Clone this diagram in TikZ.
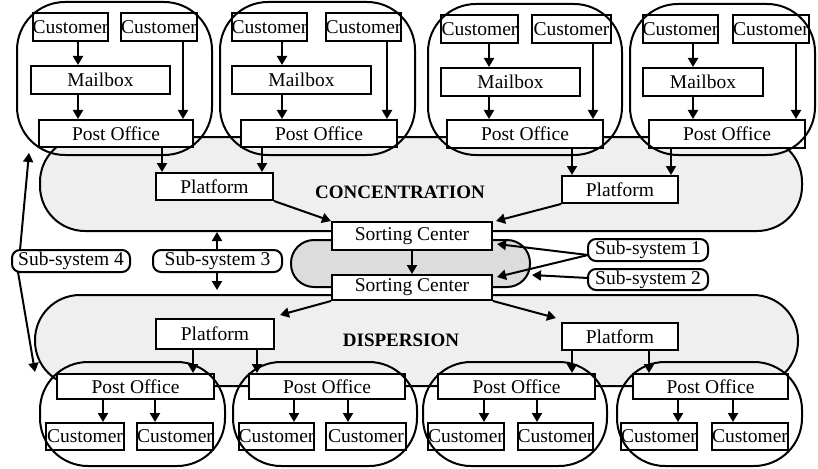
\documentclass[tikz,border=0pt]{standalone}
\usepackage{fontspec}
\setmainfont{Liberation Serif}
\usetikzlibrary{arrows.meta}
\definecolor{lightg}{HTML}{EFEFEF}
\definecolor{midg}{HTML}{DCDCDC}
\tikzset{
  box/.style={draw, line width=2pt, fill=white, inner sep=0pt, font=\fontsize{19.5}{21}\selectfont},
  subbox/.style={box, rounded corners=8pt},
  cluster/.style={draw, line width=2pt, rounded corners=48pt},
  region/.style={draw, line width=2pt, fill=lightg, rounded corners=45pt},
  arr/.style={line width=2pt, -{Triangle[length=9pt,width=10pt]}},
  lbl/.style={font=\fontsize{19}{21}\selectfont\bfseries, inner sep=0pt}
}
\newcommand\mkbox[7][box]{\node[#1, minimum width={(#5-#3)*1pt}, minimum height={(#6-#4)*1pt}] (#2) at ({(#3+#5)/2},{(#4+#6)/2}) {#7};}
\newcommand\mkarea[6][cluster]{\node[#1, inner sep=0pt, minimum width={(#5-#3)*1pt}, minimum height={(#6-#4)*1pt}] (#2) at ({(#3+#5)/2},{(#4+#6)/2}) {};}
\begin{document}
\begin{tikzpicture}[x=1pt,y=-1pt]
\useasboundingbox (0,0) rectangle (818,468);
% regions
\mkarea[region]{conc}{40}{137}{802}{231}
\mkarea[region]{disp}{35}{295}{798}{386}
\mkarea[region, fill=midg, rounded corners=23pt]{mid}{291}{240}{530}{287}
\node[lbl] (conctxt) at (400,192) {CONCENTRATION};
\node[lbl] (disptxt) at (401,340) {DISPERSION};
% cluster 1
\mkbox{c1a}{33}{13}{108}{41}{Customer}
\mkbox{c1b}{121}{13}{197}{41}{Customer}
\mkbox{c1m}{31}{66}{170}{94}{Mailbox}
\mkbox{c1p}{39}{120}{193}{147}{Post Office}
\draw[arr] (78,0 |- c1a.south) -- (78,0 |- c1m.north);
\draw[arr] (78,0 |- c1m.south) -- (78,0 |- c1p.north);
\draw[arr] (183,0 |- c1b.south) -- (183,0 |- c1p.north);
% cluster 2
\mkbox{c2a}{232}{13}{307}{41}{Customer}
\mkbox{c2b}{327}{13}{400}{41}{Customer}
\mkbox{c2m}{232}{66}{371}{94}{Mailbox}
\mkbox{c2p}{241}{120}{397}{147}{Post Office}
\draw[arr] (282,0 |- c2a.south) -- (282,0 |- c2m.north);
\draw[arr] (282,0 |- c2m.south) -- (282,0 |- c2p.north);
\draw[arr] (387,0 |- c2b.south) -- (387,0 |- c2p.north);
% cluster 3
\mkbox{c3a}{441}{15}{518}{43}{Customer}
\mkbox{c3b}{532}{15}{611}{43}{Customer}
\mkbox{c3m}{441}{68}{580}{96}{Mailbox}
\mkbox{c3p}{447}{120}{603}{148}{Post Office}
\draw[arr] (489,0 |- c3a.south) -- (489,0 |- c3m.north);
\draw[arr] (489,0 |- c3m.south) -- (489,0 |- c3p.north);
\draw[arr] (593,0 |- c3b.south) -- (593,0 |- c3p.north);
% cluster 4
\mkbox{c4a}{643}{15}{718}{43}{Customer}
\mkbox{c4b}{733}{15}{809}{43}{Customer}
\mkbox{c4m}{643}{68}{763}{96}{Mailbox}
\mkbox{c4p}{649}{120}{805}{148}{Post Office}
\draw[arr] (693,0 |- c4a.south) -- (693,0 |- c4m.north);
\draw[arr] (693,0 |- c4m.south) -- (693,0 |- c4p.north);
\draw[arr] (796,0 |- c4b.south) -- (796,0 |- c4p.north);
% top clusters (outlines over boxes)
\mkarea{c1}{17}{2}{212}{155}
\mkarea{c2}{220}{2}{415}{155}
\mkarea{c3}{428}{4}{622}{155}
\mkarea{c4}{630}{4}{815}{155}
% concentration platforms
\mkbox{pl1}{156}{173}{273}{200}{Platform}
\mkbox{pl2}{562}{176}{678}{203}{Platform}
\draw[arr] (162,0 |- c1p.south) -- (162,0 |- pl1.north);
\draw[arr] (262,0 |- c2p.south) -- (262,0 |- pl1.north);
\draw[arr] (572,0 |- c3p.south) -- (572,0 |- pl2.north);
\draw[arr] (671,0 |- c4p.south) -- (671,0 |- pl2.north);
% sorting centers
\mkbox{sc1}{332}{222}{492}{250}{Sorting Center}
\mkbox{sc2}{332}{275}{492}{300}{Sorting Center}
\draw[arr] (pl1.south east) -- (sc1.north west);
\draw[arr] (pl2.south west) -- ([xshift=3pt]sc1.north east);
\draw[arr] (412,0 |- sc1.south) -- (412,0 |- sc2.north);
% dispersion platforms
\mkbox{pl3}{156}{319}{274}{349}{Platform}
\mkbox{pl4}{562}{323}{678}{350}{Platform}
\coordinate (t3) at (280,315);
\coordinate (t4) at (556,318);
\draw[arr] (sc2.south west) -- (t3);
\draw[arr] (sc2.south east) -- (t4);
% bottom boxes
\mkbox{b1p}{57}{374}{214}{399}{Post Office}
\mkbox{b2p}{249}{374}{405}{399}{Post Office}
\mkbox{b3p}{438}{374}{595}{399}{Post Office}
\mkbox{b4p}{633}{374}{788}{399}{Post Office}
\draw[arr] (193,0 |- pl3.south) -- (193,0 |- b1p.north);
\draw[arr] (257,0 |- pl3.south) -- (257,0 |- b2p.north);
\draw[arr] (572,0 |- pl4.south) -- (572,0 |- b3p.north);
\draw[arr] (649,0 |- pl4.south) -- (649,0 |- b4p.north);
\mkbox{b1a}{46}{423}{124}{450}{Customer}
\mkbox{b1b}{137}{423}{213}{450}{Customer}
\mkbox{b2a}{240}{423}{313}{450}{Customer}
\mkbox{b2b}{326}{423}{406}{450}{Customer}
\mkbox{b3a}{428}{423}{504}{450}{Customer}
\mkbox{b3b}{518}{423}{593}{450}{Customer}
\mkbox{b4a}{622}{423}{696}{450}{Customer}
\mkbox{b4b}{713}{423}{787}{450}{Customer}
\draw[arr] (103,0 |- b1p.south) -- (103,0 |- b1a.north);
\draw[arr] (155,0 |- b1p.south) -- (155,0 |- b1b.north);
\draw[arr] (294,0 |- b2p.south) -- (294,0 |- b2a.north);
\draw[arr] (348,0 |- b2p.south) -- (348,0 |- b2b.north);
\draw[arr] (484,0 |- b3p.south) -- (484,0 |- b3a.north);
\draw[arr] (537,0 |- b3p.south) -- (537,0 |- b3b.north);
\draw[arr] (678,0 |- b4p.south) -- (678,0 |- b4a.north);
\draw[arr] (733,0 |- b4p.south) -- (733,0 |- b4b.north);
% bottom clusters (outlines over boxes)
\mkarea{b1}{40}{362}{225}{466}
\mkarea{b2}{233}{362}{417}{466}
\mkarea{b3}{423}{362}{607}{466}
\mkarea{b4}{617}{362}{802}{466}
% sub-systems
\mkbox[subbox]{s1}{588}{239}{708}{261}{Sub-system 1}
\mkbox[subbox]{s2}{588}{269}{708}{290}{Sub-system 2}
\mkbox[subbox]{s3}{153}{250}{282}{272}{Sub-system 3}
\mkbox[subbox]{s4}{12}{250}{130}{272}{Sub-system 4}
\coordinate (s1o) at (588,255);
\coordinate (s2o) at (588,278);
\coordinate (t1) at (497,244);
\coordinate (t2) at (497,277);
\coordinate (tm) at (532,275);
\draw[arr] (s1o) -- (t1);
\draw[arr] (s1o) -- (t2);
\draw[arr] (s2o) -- (tm);
\draw[arr] (217,0 |- s3.north) -- (217,232);
\draw[arr] (217,0 |- s3.south) -- (217,290);
\coordinate (s4t) at (20,250);
\coordinate (s4b) at (18,272);
\coordinate (u4) at (29,153);
\coordinate (d4) at (35,372);
\draw[arr] (s4t) -- (u4);
\draw[arr] (s4b) -- (d4);
\end{tikzpicture}
\end{document}
